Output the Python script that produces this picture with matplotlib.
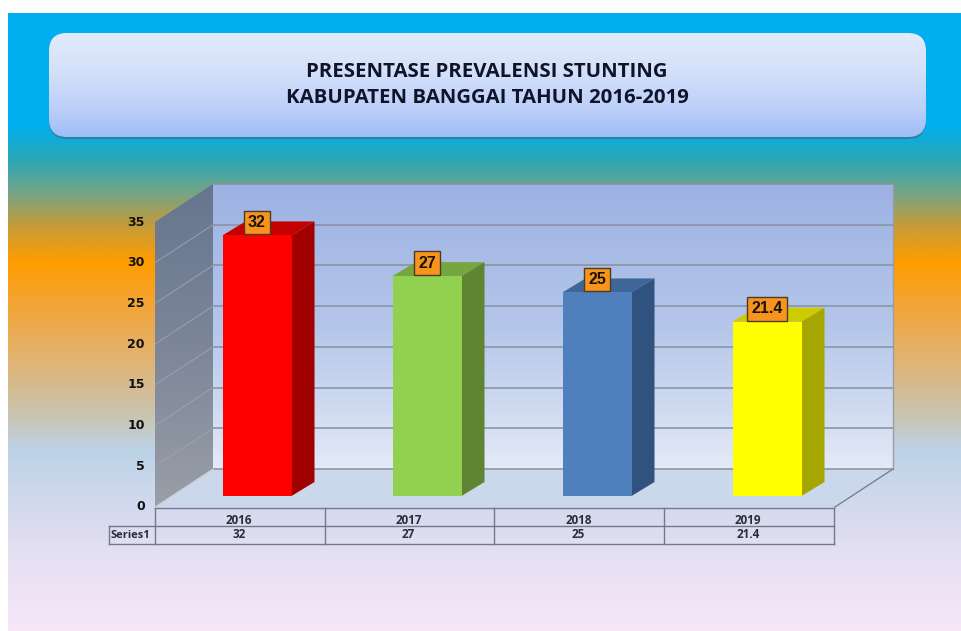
import matplotlib
matplotlib.use("Agg")
import matplotlib.pyplot as plt
import numpy as np
from matplotlib.colors import LinearSegmentedColormap
from matplotlib.patches import FancyBboxPatch, Polygon

years = ["2016", "2017", "2018", "2019"]
values = [32, 27, 25, 21.4]
value_labels = ["32", "27", "25", "21.4"]
y_ticks = [0, 5, 10, 15, 20, 25, 30, 35]
series_name = "Series1"
title_lines = ["PRESENTASE PREVALENSI STUNTING", "KABUPATEN BANGGAI TAHUN 2016-2019"]

front_colors = ["#FF0000", "#92D050", "#4F7FBD", "#FFFF00"]
top_colors = ["#C40000", "#76A63F", "#3F6698", "#CCCC00"]
side_colors = ["#A00000", "#5F8532", "#30527E", "#A6A600"]

W, H = 962, 631


def ramp(stops, top, bottom):
    pos = [(y - top) / (bottom - top) for y, c in stops]
    return LinearSegmentedColormap.from_list("r", list(zip(pos, [c for y, c in stops])), N=1024)


grad = np.linspace(0, 1, 1024).reshape(-1, 1)

fig = plt.figure(figsize=(W / 100, H / 100), dpi=100, facecolor="white")

# page background and title panel, in pixels
bg = fig.add_axes([0, 0, 1, 1])
bg.axis("off")
bg_stops = [(13, "#00B0F0"), (125, "#00AFEF"), (160, "#2BA8B4"), (190, "#6FA58C"),
            (225, "#C49C3A"), (262, "#FF9C00"), (310, "#F2A63C"), (370, "#DDB67E"),
            (420, "#C8C6B6"), (450, "#BDD3E8"), (540, "#E0DEF0"), (631, "#F7E7F9")]
bg.imshow(grad, cmap=ramp(bg_stops, 13, 631), extent=[8, W, 631, 13], aspect="auto", zorder=0,
          interpolation="bilinear")

bg.add_patch(FancyBboxPatch((49, 35), 877, 104, boxstyle="round,pad=0,rounding_size=18",
                            fc="#2E7FA6", ec="none", zorder=1))
panel = FancyBboxPatch((49, 33), 877, 104, boxstyle="round,pad=0,rounding_size=18",
                       fc="none", ec="none", zorder=2)
bg.add_patch(panel)
panel_stops = [(33, "#E2EBFB"), (70, "#D4E1FA"), (110, "#BBCFF9"), (137, "#9DBEF7")]
im = bg.imshow(grad, cmap=ramp(panel_stops, 33, 137), extent=[49, 926, 137, 33],
               aspect="auto", zorder=2, interpolation="bilinear")
im.set_clip_path(panel)

bg.text(487, 72, title_lines[0], ha="center", va="center", fontsize=14.7,
        fontweight="bold", family="Open Sans", color="#101428", zorder=3)
bg.text(487, 98, title_lines[1], ha="center", va="center", fontsize=14.7,
        fontweight="bold", family="Open Sans", color="#101428", zorder=3)

# data table under the chart
table_left, table_x0, table_x1 = 109, 155, 834
rows = [508, 526, 544]
cell_w = (table_x1 - table_x0) / len(years)
line_c = "#73788A"
bg.plot([table_x0, table_x1], [rows[0], rows[0]], color=line_c, lw=1, zorder=3)
bg.plot([table_left, table_x1], [rows[1], rows[1]], color=line_c, lw=1, zorder=3)
bg.plot([table_left, table_x1], [rows[2], rows[2]], color=line_c, lw=1, zorder=3)
bg.plot([table_left, table_left], [rows[1], rows[2]], color=line_c, lw=1, zorder=3)
for i in range(len(years) + 1):
    bg.plot([table_x0 + i * cell_w] * 2, [rows[0], rows[2]], color=line_c, lw=1, zorder=3)
for i, (yr, lab) in enumerate(zip(years, value_labels)):
    cx = table_x0 + (i + 0.5) * cell_w
    bg.text(cx - 1, 520, yr, ha="center", va="center", fontsize=8.4, fontweight="bold",
            family="Open Sans", color="#2A2C3A", zorder=4)
    bg.text(cx - 1, 535, lab, ha="center", va="center", fontsize=8.4, fontweight="bold",
            family="Open Sans", color="#2A2C3A", zorder=4)
bg.text(130.5, 535, series_name, ha="center", va="center", fontsize=8, fontweight="bold",
        family="Open Sans", color="#2A2C3A", zorder=4)
bg.set_xlim(0, W)
bg.set_ylim(H, 0)

# chart axes: y = 0 sits on the bar base plane
ax = fig.add_axes([172 / W, 1 - 496 / H, 680 / W, 285 / H])
ax.axis("off")
ax.patch.set_alpha(0)
xlim = (-0.5, 3.5)
ylim = (0, 35)

fx, fy = -17 / 170, -11 * 35 / 285   # front edge of the floor
bx, by = 41 / 170, 27 * 35 / 285     # back wall
dx, dy = 23 / 170, 14 * 35 / 285     # bar depth
x0, x1 = xlim
top = 35


def grad_poly(points, stops, zorder):
    poly = Polygon(points, closed=True, fc="none", ec="none", zorder=zorder, clip_on=False)
    ax.add_patch(poly)
    ys = [p[1] for p in points]
    xs = [p[0] for p in points]
    cm = LinearSegmentedColormap.from_list("g", stops, N=1024)
    img = ax.imshow(grad, cmap=cm, extent=[min(xs), max(xs), min(ys), max(ys)],
                    aspect="auto", zorder=zorder, interpolation="bilinear")
    img.set_clip_box(fig.bbox)
    img.set_clip_path(poly)


# back wall, left wall, floor
grad_poly([(x0 + bx, by), (x1 + bx, by), (x1 + bx, top + by), (x0 + bx, top + by)],
          ["#9DB2E3", "#B4C6E9", "#E4EAF7"], 1)
grad_poly([(x0 + fx, fy), (x0 + bx, by), (x0 + bx, top + by), (x0 + fx, top + fy)],
          ["#66758F", "#7C8698", "#9A9FA8"], 1)
ax.add_patch(Polygon([(x0 + fx, fy), (x1 + fx, fy), (x1 + bx, by), (x0 + bx, by)],
                     closed=True, fc="#CBD7EA", ec="none", zorder=1, clip_on=False))

# gridlines on the walls
for t in y_ticks:
    if 0 < t < top:
        ax.plot([x0 + fx, x0 + bx], [t + fy, t + by], color="#A0A6B0", lw=0.6, zorder=2,
                clip_on=False)
    ax.plot([x0 + bx, x1 + bx], [t + by, t + by], color="#8A8F9E", lw=1.1, zorder=2,
            clip_on=False)
    ax.text(x0 + fx - 10 / 170, t + fy, str(t), ha="right", va="center", fontsize=9,
            fontweight="bold", family="DejaVu Sans", color="#111111", clip_on=False)

# wall outline
ax.plot([x1 + bx, x1 + bx], [top + by, by], color="#9A9EA8", lw=1, zorder=2, clip_on=False)
ax.plot([x1 + fx, x1 + bx], [fy, by], color="#7C8090", lw=1, zorder=2, clip_on=False)
ax.plot([x0 + fx, x0 + bx], [fy, by], color="#C8CCD4", lw=0.8, zorder=2, clip_on=False)

# bars
width = 69 / 170
pos = np.arange(len(years))
ax.bar(pos, values, width=width, color=front_colors, zorder=4)
for i, v in enumerate(values):
    l, r = i - width / 2, i + width / 2
    ax.add_patch(Polygon([(l, v), (r, v), (r + dx, v + dy), (l + dx, v + dy)], closed=True,
                         fc=top_colors[i], ec="none", zorder=3, clip_on=False))
    ax.add_patch(Polygon([(r, 0), (r + dx, dy), (r + dx, v + dy), (r, v)], closed=True,
                         fc=side_colors[i], ec="none", zorder=3, clip_on=False))
    ax.annotate(value_labels[i], (i, v), xytext=(0, 9.3), textcoords="offset points",
                ha="center", va="center", fontsize=11.5, fontweight="bold",
                family="Liberation Sans", color="#1A1208", zorder=6, annotation_clip=False,
                bbox=dict(boxstyle="square,pad=0.27", fc="#F7941D", ec="#4A3A28", lw=1))

ax.set_xlim(xlim)
ax.set_ylim(ylim)

plt.savefig("out.png", dpi=100)
